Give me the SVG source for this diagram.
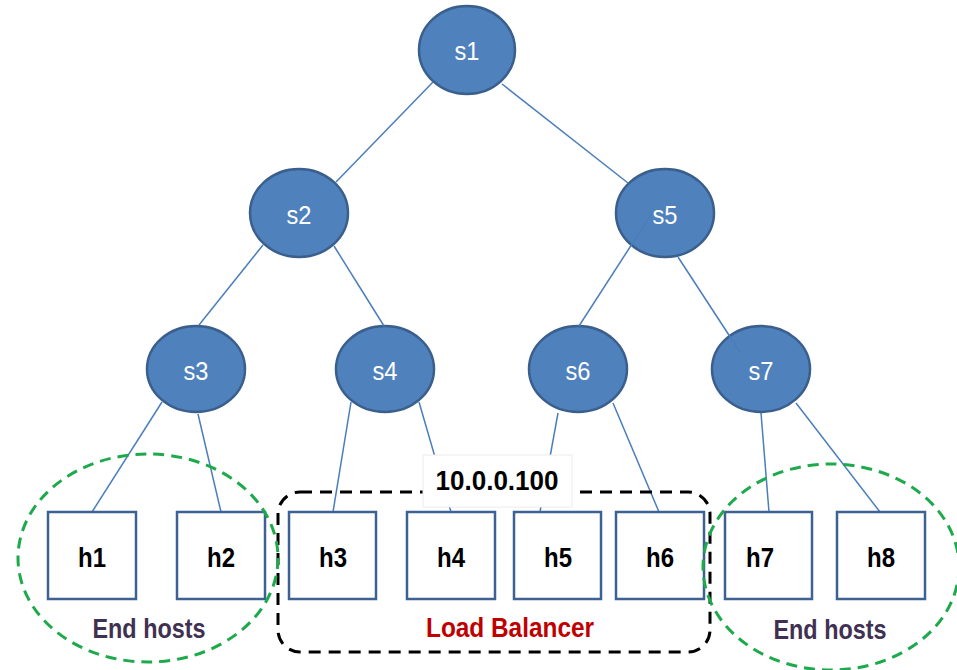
<svg xmlns="http://www.w3.org/2000/svg" width="957" height="670" viewBox="0 0 957 670">
  <style>
    .sw ellipse { fill: #4f81bd; stroke: #3a5f8c; stroke-width: 2.5; }
    .sw text { fill: #ffffff; font-family: "Liberation Sans", Arial, sans-serif; font-size: 26px; text-anchor: middle; }
    .host rect { fill: #ffffff; stroke: #3e6193; stroke-width: 2.5; }
    .host text { fill: #000000; font-family: "Liberation Sans", Arial, sans-serif; font-weight: bold; font-size: 28px; text-anchor: middle; }
    .link { stroke: #4a7ebb; stroke-width: 1.5; fill: none; }
    .group-green { fill: none; stroke: #1eaa4c; stroke-width: 3; stroke-dasharray: 11 7; }
    .group-black { fill: none; stroke: #000000; stroke-width: 3; stroke-dasharray: 12 8; }
    .caption { font-family: "Liberation Sans", Arial, sans-serif; font-weight: bold; font-size: 28px; text-anchor: middle; }
  </style>
  <rect width="957" height="670" fill="#ffffff"/>

  <!-- switches -->
  <g id="s1" class="sw"><ellipse cx="467" cy="50" rx="48" ry="44"/><text x="467" y="60" textLength="25" lengthAdjust="spacingAndGlyphs">s1</text></g>
  <g id="s2" class="sw"><ellipse cx="299" cy="213" rx="49" ry="44"/><text x="299" y="224" textLength="25" lengthAdjust="spacingAndGlyphs">s2</text></g>
  <g id="s5" class="sw"><ellipse cx="665" cy="213" rx="49" ry="44"/><text x="665" y="224" textLength="25" lengthAdjust="spacingAndGlyphs">s5</text></g>
  <g id="s3" class="sw"><ellipse cx="196" cy="369" rx="49" ry="43"/><text x="196" y="380" textLength="25" lengthAdjust="spacingAndGlyphs">s3</text></g>
  <g id="s4" class="sw"><ellipse cx="385" cy="369" rx="49" ry="43"/><text x="385" y="380" textLength="25" lengthAdjust="spacingAndGlyphs">s4</text></g>
  <g id="s6" class="sw"><ellipse cx="578" cy="369" rx="49" ry="43"/><text x="578" y="380" textLength="25" lengthAdjust="spacingAndGlyphs">s6</text></g>
  <g id="s7" class="sw"><ellipse cx="761" cy="369" rx="49" ry="43"/><text x="761" y="380" textLength="25" lengthAdjust="spacingAndGlyphs">s7</text></g>

  <!-- links -->
  <g id="links" class="link">
    <line x1="433" y1="82" x2="336" y2="182"/>
    <line x1="502" y1="84" x2="628" y2="183"/>
    <line x1="263" y1="245" x2="199" y2="325"/>
    <line x1="334" y1="246" x2="384" y2="326"/>
    <line x1="652" y1="213" x2="579" y2="326"/>
    <line x1="678" y1="257" x2="740" y2="352"/>
    <line x1="162" y1="402" x2="92" y2="512"/>
    <line x1="198" y1="414" x2="221" y2="512"/>
    <line x1="351" y1="402" x2="333" y2="512"/>
    <line x1="419" y1="402" x2="451" y2="512"/>
    <line x1="558" y1="413" x2="540" y2="512"/>
    <line x1="613" y1="403" x2="659" y2="512"/>
    <line x1="761" y1="413" x2="769" y2="512"/>
    <line x1="796" y1="403" x2="880" y2="512"/>
  </g>

  <!-- hosts -->
  <g id="h1" class="host"><rect x="48" y="512" width="88" height="87"/><text x="92" y="567" textLength="28" lengthAdjust="spacingAndGlyphs">h1</text></g>
  <g id="h2" class="host"><rect x="177" y="512" width="88" height="87"/><text x="221" y="567" textLength="28" lengthAdjust="spacingAndGlyphs">h2</text></g>
  <g id="h3" class="host"><rect x="289" y="512" width="87" height="87"/><text x="333" y="567" textLength="28" lengthAdjust="spacingAndGlyphs">h3</text></g>
  <g id="h4" class="host"><rect x="407" y="512" width="88" height="87"/><text x="451" y="567" textLength="28" lengthAdjust="spacingAndGlyphs">h4</text></g>
  <g id="h5" class="host"><rect x="514" y="512" width="87" height="87"/><text x="558" y="567" textLength="28" lengthAdjust="spacingAndGlyphs">h5</text></g>
  <g id="h6" class="host"><rect x="616" y="512" width="88" height="87"/><text x="660" y="567" textLength="28" lengthAdjust="spacingAndGlyphs">h6</text></g>
  <g id="h7" class="host"><rect x="725" y="512" width="87" height="87"/><text x="760" y="567" textLength="28" lengthAdjust="spacingAndGlyphs">h7</text></g>
  <g id="h8" class="host"><rect x="837" y="512" width="88" height="87"/><text x="881" y="567" textLength="28" lengthAdjust="spacingAndGlyphs">h8</text></g>

  <!-- host groupings -->
  <g id="load-balancer">
    <rect class="group-black" x="278" y="492" width="432" height="160" rx="22" ry="22"/>
    <text class="caption" x="510" y="637" fill="#c00000" textLength="168" lengthAdjust="spacingAndGlyphs">Load Balancer</text>
  </g>
  <g id="end-hosts-left">
    <ellipse class="group-green" cx="148" cy="558" rx="130" ry="104"/>
    <text class="caption" x="149" y="638" fill="#403152" textLength="113" lengthAdjust="spacingAndGlyphs">End hosts</text>
  </g>
  <g id="end-hosts-right">
    <ellipse class="group-green" cx="831" cy="567" rx="128" ry="103"/>
    <text class="caption" x="830" y="639" fill="#403152" textLength="113" lengthAdjust="spacingAndGlyphs">End hosts</text>
  </g>

  <!-- virtual address label -->
  <g id="vip">
    <rect x="423" y="455" width="149" height="52" fill="#ffffff" stroke="#ececec" stroke-width="1"/>
    <text class="caption" x="497" y="490" fill="#000000" textLength="123" lengthAdjust="spacingAndGlyphs">10.0.0.100</text>
  </g>
</svg>
